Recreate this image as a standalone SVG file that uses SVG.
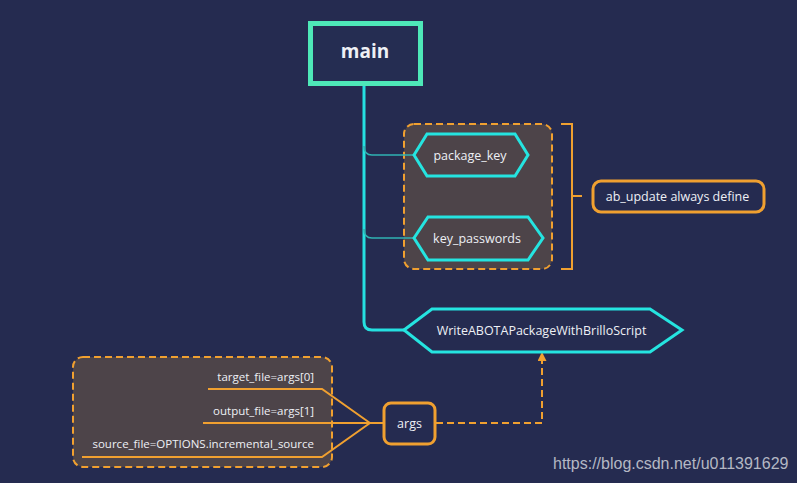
<svg xmlns="http://www.w3.org/2000/svg" width="797" height="483" viewBox="0 0 797 483">
<defs>
<style>
text{font-family:"Open Sans","Noto Sans","Liberation Sans",sans-serif;fill:#eef0f5}
.grp{fill:#4d4449;stroke:#f0a030;stroke-width:2;stroke-dasharray:7 4}
.hex{fill:#4d4449;stroke:#25e4e0;stroke-width:3}
.obox{fill:#252b50;stroke:#f0a030;stroke-width:3}
.ol{fill:none;stroke:#f0a030;stroke-width:2}
.t12{font-size:12.5px}
.al{font-size:11.5px}
</style>
<marker id="ah" viewBox="0 0 10 10" refX="5" refY="9" markerWidth="9" markerHeight="9" orient="0" markerUnits="userSpaceOnUse">
<path d="M0,10 L5,0 L10,10 Z" fill="#f0a030"/>
</marker>
</defs>
<rect width="797" height="483" fill="#252b50"/>

<g id="group-define"><rect class="grp" x="404" y="124" width="148" height="145" rx="10"/></g>
<g id="group-args"><rect class="grp" x="73" y="357" width="259" height="110" rx="10"/></g>

<g id="connectors">
<path d="M364,86 V322 Q364,330 372,330 H404" fill="none" stroke="#25e0e0" stroke-width="3"/>
<path d="M364,146 Q364,155 372,155 H414" fill="none" stroke="#2fb3b2" stroke-width="1.6"/>
<path d="M364,229 Q364,238 372,238 H414" fill="none" stroke="#2fb3b2" stroke-width="1.6"/>
<path class="ol" d="M561,124 H572 V269 H561 M572,196 H582"/>
<path class="ol" d="M208,389 H322 L370,423 M203,423 H383 M82,457 H322 L370,423"/>
<path class="ol" d="M436,423 H542 V360" stroke-dasharray="7 4" marker-end="url(#ah)"/>
</g>

<g id="main">
<rect x="310.5" y="23.5" width="110" height="60" fill="#252d52" stroke="#4ee8b8" stroke-width="5"/>
<text x="365" y="58" font-size="19" font-weight="bold" text-anchor="middle">main</text>
</g>

<g id="package_key">
<polygon class="hex" points="414,155 427,134 515,134 528,155 515,176 427,176"/>
<text class="t12" x="470" y="159.5" text-anchor="middle">package_key</text>
</g>

<g id="key_passwords">
<polygon class="hex" points="414,238 428,217 528,217 543,238 528,260 428,260"/>
<text class="t12" x="477" y="242.5" text-anchor="middle">key_passwords</text>
</g>

<g id="ab_update">
<rect class="obox" x="593" y="181" width="171" height="31" rx="8"/>
<text class="t12" x="677.5" y="201" text-anchor="middle">ab_update always define</text>
</g>

<g id="write">
<polygon points="404,330 432,309 650,309 682,330 650,352 432,352" fill="#252b50" stroke="#25e4e0" stroke-width="3"/>
<text class="t12" x="541.5" y="334.5" text-anchor="middle">WriteABOTAPackageWithBrilloScript</text>
</g>

<g id="args">
<rect class="obox" x="384" y="403" width="51" height="41" rx="7"/>
<text class="t12" x="409.5" y="427.5" text-anchor="middle">args</text>
</g>

<g id="arg-labels">
<text class="al" x="314" y="381" text-anchor="end">target_file=args[0]</text>
<text class="al" x="314" y="415" text-anchor="end">output_file=args[1]</text>
<text class="al" x="314" y="448" text-anchor="end">source_file=OPTIONS.incremental_source</text>
</g>

<text x="553" y="469" font-size="16" style="font-family:'Liberation Sans',Arial,sans-serif;fill:#b4b8c4">https://blog.csdn.net/u011391629</text>
</svg>
